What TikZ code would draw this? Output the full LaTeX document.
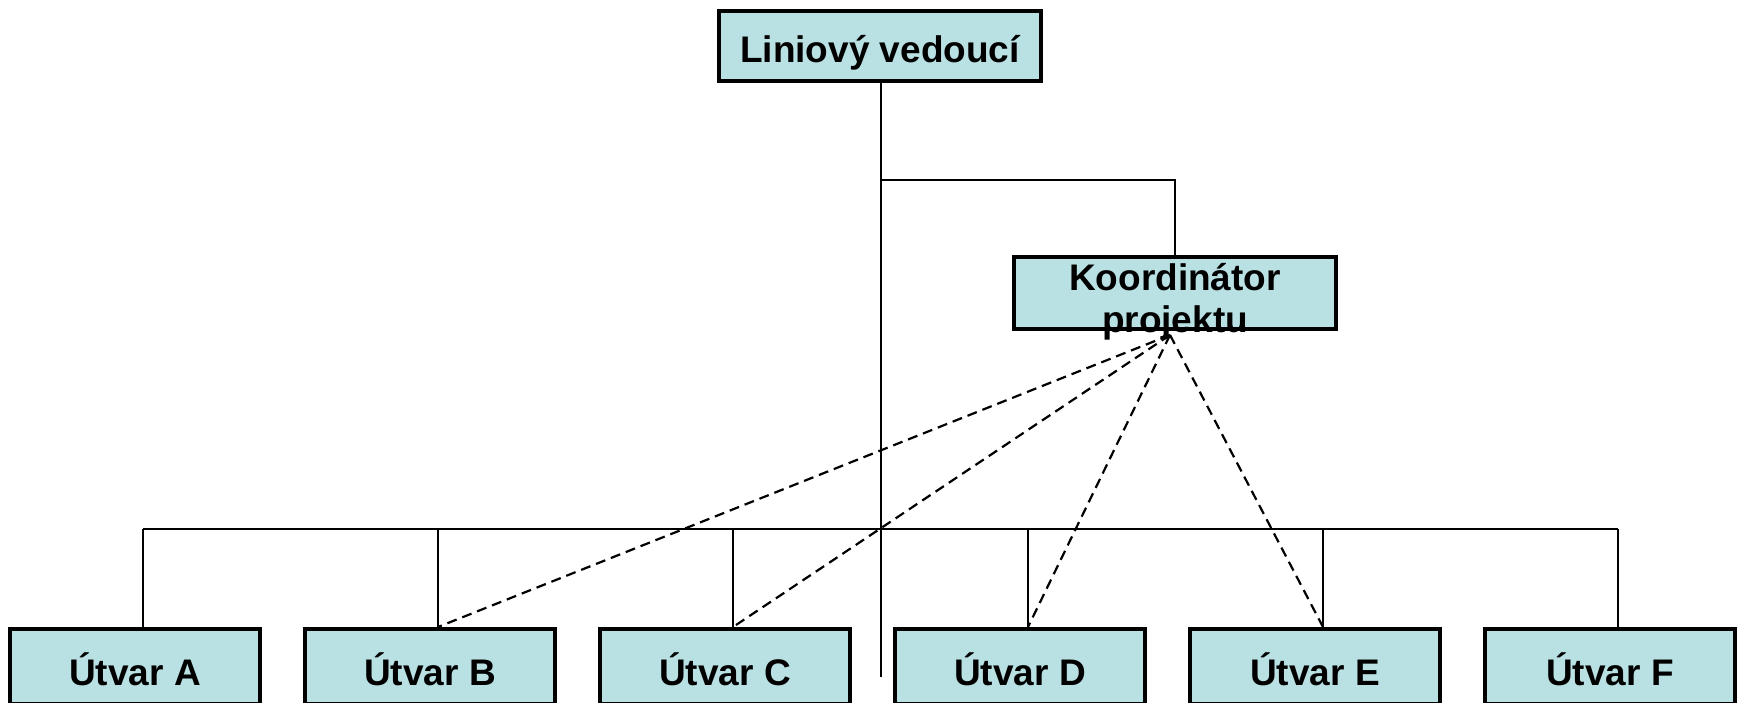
\documentclass[tikz,border=0pt]{standalone}
\usepackage{fontspec}
\setmainfont{Liberation Sans}
\definecolor{boxfill}{RGB}{185,224,226}
\begin{document}
\begin{tikzpicture}[x=1pt,y=-1pt,
  box/.style={draw=black,line width=3.8pt,fill=boxfill,inner sep=0pt,
    font=\fontsize{37}{42}\selectfont\bfseries,text height=37pt,text depth=0pt},
  unitbox/.style={box,minimum width=250pt,minimum height=75pt},
  bigbox/.style={box,minimum width=322pt,minimum height=70pt},
  lbl/.style={inner sep=0pt,font=\fontsize{37}{42}\selectfont\bfseries},
  conn/.style={line width=2.2pt},
  dashconn/.style={line width=2.2pt,dash pattern=on 10pt off 6pt}]
\useasboundingbox (0,0) rectangle (1744,703);
% top box
\node[bigbox,text height=34pt] (lead) at (880,46) {Liniový vedoucí};
% coordinator box
\node[bigbox,minimum height=72pt,text height=0pt] (koord) at (1175,293) {};
\coordinate (mainend) at (881,677);
\coordinate (split) at (881,180);
\coordinate (busL) at (143,529);
\coordinate (busR) at (1618,529);
\coordinate (hub) at (1170,335);
% bottom boxes
\node[unitbox] (ua) at (135,666.5) {Útvar A};
\node[unitbox] (ub) at (430,666.5) {Útvar B};
\node[unitbox] (uc) at (725,666.5) {Útvar C};
\node[unitbox] (ud) at (1020,666.5) {Útvar D};
\node[unitbox] (ue) at (1315,666.5) {Útvar E};
\node[unitbox] (uf) at (1610,666.5) {Útvar F};
\coordinate (da) at (143,627);
\coordinate (db) at (438,627);
\coordinate (dc) at (733,627);
\coordinate (dd) at (1028,627);
\coordinate (de) at (1323,627);
\coordinate (df) at (1618,627);
% solid connectors
\draw[conn] (lead.south -| mainend) -- (mainend);
\draw[conn] (split) -| (koord.north);
\draw[conn] (busL) -- (busR);
\foreach \d in {da,db,dc,dd,de,df}{
  \draw[conn] (\d |- busL) -- (\d);
}
% dashed connectors
\foreach \d in {db,dc,dd,de}{
  \draw[dashconn] (hub) -- (\d);
}
% coordinator text
\node[lbl,anchor=base] (kt1) at (1175,290) {Koordinátor};
\node[lbl,anchor=base] (kt2) at (1175,332) {projektu};
\end{tikzpicture}
\end{document}
